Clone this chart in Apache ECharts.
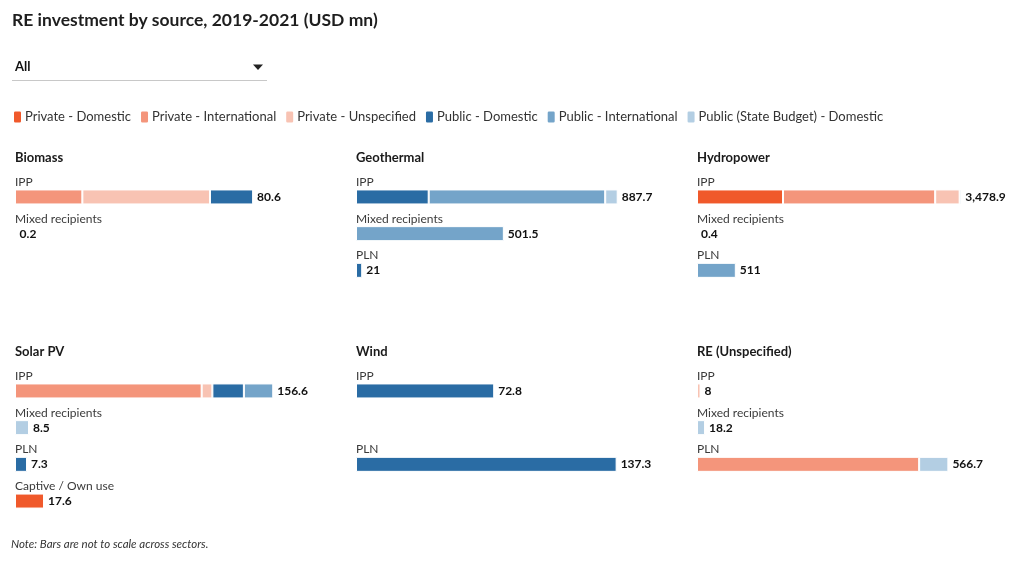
<!DOCTYPE html>
<html>
<head>
<meta charset="utf-8">
<script src="https://cdn.jsdelivr.net/npm/echarts@6/dist/echarts.min.js"></script>
<style>
html,body{margin:0;padding:0;background:#fff;}
#c{width:1020px;height:562px;}
</style>
</head>
<body>
<div id="c"></div>
<script>
// ---------- DATA ----------
const sectors = ['Biomass', 'Geothermal', 'Hydropower', 'Solar PV', 'Wind', 'RE (Unspecified)'];
const recipients = ['IPP', 'Mixed recipients', 'PLN', 'Captive / Own use'];
const sources = ['Private - Domestic', 'Private - International', 'Private - Unspecified',
                 'Public - Domestic', 'Public - International', 'Public (State Budget) - Domestic'];

// each row = one sector; columns = IPP, Mixed recipients, PLN, Captive / Own use
const privateDomestic = [
  [null, null, null, null],
  [null, null, null, null],
  [1132, null, null, null],
  [null, null, null, 17.6],
  [null, null, null, null],
  [null, null, null, null]
];
const privateInternational = [
  [22.8, null, null, null],
  [null, null, null, null],
  [2003, null, null, null],
  [113.2, null, null, null],
  [null, null, null, null],
  [null, null, 500.8, null]
];
const privateUnspecified = [
  [43.2, null, null, null],
  [null, null, null, null],
  [322, 0.4, null, null],
  [6.5, null, null, null],
  [null, null, null, null],
  [8, null, null, null]
];
const publicDomestic = [
  [14.6, null, null, null],
  [246.6, null, 21, null],
  [null, null, null, null],
  [19.1, null, 7.3, null],
  [72.8, null, 137.3, null],
  [null, null, null, null]
];
const publicInternational = [
  [null, null, null, null],
  [598.7, 501.5, null, null],
  [21.9, null, 511, null],
  [17.8, null, null, null],
  [null, null, null, null],
  [null, null, null, null]
];
const publicStateBudget = [
  [null, 0.2, null, null],
  [42.4, null, null, null],
  [null, null, null, null],
  [null, 8.5, null, null],
  [null, null, null, null],
  [null, 18.2, 65.9, null]
];
// per-sector scale maximum (bars are not to scale across sectors)
const axisMax = [89.7, 898.9, 3488, 160.7, 139.6, 597.4];

// ---------- STYLE / LAYOUT ----------
const sourceData = [privateDomestic, privateInternational, privateUnspecified,
                    publicDomestic, publicInternational, publicStateBudget];
const sourceColors = ['#f0592b', '#f4957b', '#f8c3b3', '#2a6ca4', '#74a4c9', '#b3cee3'];
const FONT = 'Lato';
const colLeft = [15, 356, 697];
const rowTop = [178.6, 372.6];
const bandH = 36.7;
const gridW = 265;

function fmt(v) {
  const r = Math.round(v * 10) / 10;
  return r.toLocaleString('en-US', { maximumFractionDigits: 1 });
}

const grids = [], xAxes = [], yAxes = [], series = [], titles = [];

titles.push({
  text: 'RE investment by source, 2019-2021 (USD mn)',
  left: 12, top: 11, padding: 0,
  textStyle: { fontFamily: FONT, fontSize: 17.5, fontWeight: 'bold', color: '#1e1e1e' }
});

sectors.forEach((sec, p) => {
  const col = p % 3, row = Math.floor(p / 3);
  const totals = recipients.map((r, i) => {
    let s = null;
    sourceData.forEach(arr => {
      const v = arr[p][i];
      if (v != null) s = (s || 0) + v;
    });
    return s;
  });

  titles.push({
    text: sec,
    left: colLeft[col], top: rowTop[row] - 27, padding: 0,
    textStyle: { fontFamily: FONT, fontSize: 13, fontWeight: 'bold', color: '#1a1a1a' }
  });

  grids.push({ left: colLeft[col], top: rowTop[row], width: gridW, height: bandH * recipients.length });
  xAxes.push({ type: 'value', gridIndex: p, min: 0, max: axisMax[p], show: false });
  yAxes.push({
    type: 'category', gridIndex: p, data: recipients, inverse: true,
    axisLine: { show: false }, axisTick: { show: false }, splitLine: { show: false },
    axisLabel: {
      inside: true, margin: 0, interval: 0,
      verticalAlign: 'bottom', padding: [0, 0, 9, 0],
      fontFamily: FONT, fontSize: 12, color: '#3a3a3a',
      formatter: (v, i) => totals[i] != null ? v : ''
    }
  });

  sources.forEach((src, s) => {
    series.push({
      type: 'bar', name: src, xAxisIndex: p, yAxisIndex: p, stack: 'st' + p,
      barWidth: 15,
      data: sourceData[s][p],
      itemStyle: { color: sourceColors[s], borderColor: '#fff', borderWidth: 1 },
      emphasis: { disabled: true },
      silent: true
    });
  });

  series.push({
    type: 'bar', name: 'total', xAxisIndex: p, yAxisIndex: p, stack: 'st' + p,
    barWidth: 15,
    data: totals.map(t => t == null ? null : 0),
    itemStyle: { color: 'rgba(0,0,0,0)', borderWidth: 0 },
    label: {
      show: true, position: 'right', distance: 4,
      fontFamily: FONT, fontSize: 12, fontWeight: 'bold', color: '#111',
      formatter: prm => fmt(totals[prm.dataIndex])
    },
    emphasis: { disabled: true },
    silent: true
  });
});

const chart = echarts.init(document.getElementById('c'), null, { renderer: 'canvas' });
chart.setOption({
  animation: false,
  backgroundColor: '#fff',
  textStyle: { fontFamily: FONT },
  title: titles,
  legend: {
    data: sources,
    left: 12, top: 109.5, padding: 0,
    icon: 'roundRect', itemWidth: 9, itemHeight: 13, itemGap: 8,
    textStyle: { fontFamily: FONT, fontSize: 13, color: '#333', padding: [0, 0, 0, -2] },
    selectedMode: false
  },
  grid: grids,
  xAxis: xAxes,
  yAxis: yAxes,
  series: series,
  graphic: [
    { type: 'text', left: 15, top: 60, style: { text: 'All', font: 'bold 13px Lato', fill: '#111' } },
    { type: 'polygon', shape: { points: [[253, 64.5], [263, 64.5], [258, 70]] }, style: { fill: '#222' } },
    { type: 'line', shape: { x1: 12, y1: 80.5, x2: 267, y2: 80.5 }, style: { stroke: '#c8c8c8', lineWidth: 1 } },
    { type: 'text', left: 11, top: 538, style: { text: 'Note: Bars are not to scale across sectors.', font: 'italic 11.5px Lato', fill: '#333' } }
  ]
});
</script>
</body>
</html>
